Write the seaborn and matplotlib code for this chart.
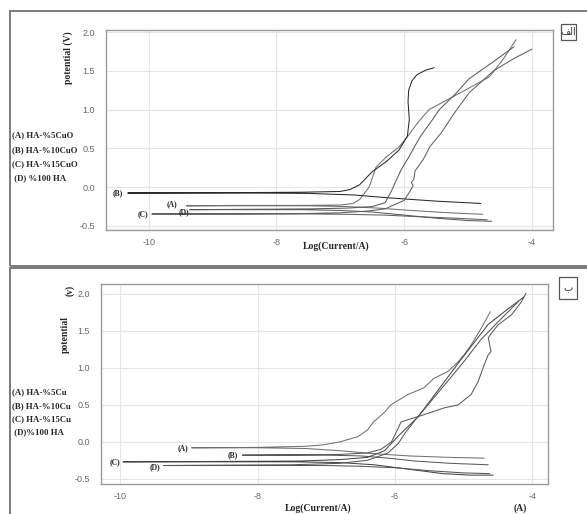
import numpy as np
import pandas as pd
import matplotlib
matplotlib.use("Agg")
import matplotlib.pyplot as plt
from matplotlib.patches import Rectangle
from matplotlib.ticker import MultipleLocator
import seaborn as sns

# ---------------- data: log(current) / potential traces ----------------
# upper panel (CuO series)
top_A_logi = [-4.77, -5.3, -5.9, -6.4, -6.9, -7.5, -8.5, -9.41, -8.6, -7.6, -7.0, -6.8, -6.70, -6.55,
              -6.44, -6.28, -6.08, -5.95, -5.78, -5.61, -5.34, -4.98, -4.67, -4.45, -4.25]
top_A_E = [-0.35, -0.33, -0.30, -0.27, -0.25, -0.24, -0.24, -0.24, -0.235, -0.235, -0.23, -0.21, -0.16, 0.0,
           0.26, 0.39, 0.52, 0.65, 0.84, 1.0, 1.12, 1.28, 1.42, 1.65, 1.90]

top_B_logi = [-4.80, -5.5, -6.2, -6.8, -7.5, -8.5, -10.33, -8.5, -7.6, -7.0, -6.85, -6.70, -6.5, -6.28,
              -6.08, -5.95, -5.92, -5.94, -5.93, -5.88, -5.80, -5.66, -5.53]
top_B_E = [-0.21, -0.18, -0.14, -0.10, -0.08, -0.075, -0.075, -0.07, -0.065, -0.055, -0.03, 0.03, 0.20, 0.33,
           0.48, 0.66, 0.87, 1.10, 1.25, 1.37, 1.45, 1.51, 1.54]

top_C_logi = [-4.7, -5.2, -5.8, -6.3, -6.9, -7.5, -8.5, -9.95, -8.8, -7.6, -7.0, -6.6, -6.3, -6.0, -5.9,
              -5.86, -5.89, -5.85, -5.83, -5.7, -5.6, -5.42, -5.22, -4.98, -4.6, -4.3, -4.0]
top_C_E = [-0.42, -0.40, -0.38, -0.36, -0.35, -0.345, -0.345, -0.345, -0.345, -0.34, -0.33, -0.31, -0.28, -0.17,
           -0.04, 0.02, 0.06, 0.10, 0.21, 0.36, 0.52, 0.70, 0.95, 1.22, 1.50, 1.65, 1.78]

top_D_logi = [-4.63, -5.0, -5.5, -6.0, -6.5, -7.0, -7.6, -8.5, -9.36, -8.4, -7.5, -6.9, -6.5, -6.3, -6.2,
              -6.13, -6.05, -5.92, -5.84, -5.75, -5.6, -5.45, -5.2, -4.98, -4.6, -4.28]
top_D_E = [-0.44, -0.43, -0.40, -0.36, -0.32, -0.30, -0.29, -0.29, -0.29, -0.285, -0.28, -0.27, -0.25, -0.20,
           -0.05, 0.08, 0.22, 0.40, 0.52, 0.65, 0.82, 1.0, 1.2, 1.40, 1.62, 1.81]

# lower panel (Cu series)
bot_A_logi = [-4.70, -5.2, -5.8, -6.3, -6.8, -7.3, -8.0, -8.96, -8.0, -7.3, -7.04, -6.80, -6.54, -6.40,
              -6.31, -6.15, -6.06, -5.81, -5.58, -5.43, -5.23, -5.08, -4.99, -4.89, -4.74, -4.61]
bot_A_E = [-0.22, -0.21, -0.19, -0.16, -0.12, -0.09, -0.08, -0.08, -0.075, -0.06, -0.04, 0.0, 0.07, 0.16,
           0.27, 0.40, 0.50, 0.64, 0.73, 0.86, 0.95, 1.08, 1.18, 1.31, 1.54, 1.76]

bot_B_logi = [-4.64, -5.2, -5.7, -6.1, -6.5, -7.0, -7.6, -8.22, -7.5, -6.8, -6.4, -6.2, -6.05, -5.97,
              -5.91, -5.6, -5.28, -5.08, -4.89, -4.79, -4.70, -4.64, -4.60, -4.64, -4.50, -4.30, -4.16, -4.09]
bot_B_E = [-0.31, -0.29, -0.26, -0.22, -0.19, -0.18, -0.18, -0.18, -0.175, -0.17, -0.15, -0.10, 0.0, 0.15,
           0.27, 0.36, 0.46, 0.50, 0.64, 0.81, 1.04, 1.18, 1.22, 1.41, 1.58, 1.72, 1.89, 2.01]

bot_C_logi = [-4.57, -4.9, -5.3, -5.8, -6.3, -6.8, -7.5, -8.5, -9.96, -8.6, -7.4, -6.8, -6.4, -6.15,
              -5.96, -5.66, -5.37, -5.04, -4.64, -4.35, -4.12]
bot_C_E = [-0.45, -0.45, -0.43, -0.37, -0.31, -0.28, -0.27, -0.27, -0.27, -0.265, -0.26, -0.24, -0.21, -0.12,
           0.07, 0.34, 0.70, 1.11, 1.59, 1.80, 1.96]

bot_D_logi = [-4.62, -5.0, -5.5, -6.0, -6.5, -7.0, -7.8, -8.6, -9.37, -8.5, -7.5, -6.8, -6.4, -6.1,
              -5.95, -5.85, -5.7, -5.5, -5.25, -5.0, -4.75, -4.5, -4.2]
bot_D_E = [-0.43, -0.42, -0.39, -0.35, -0.33, -0.32, -0.32, -0.32, -0.32, -0.315, -0.31, -0.29, -0.25, -0.15,
           -0.02, 0.12, 0.30, 0.52, 0.80, 1.08, 1.38, 1.62, 1.90]

top_legend = ["(A) HA-%5CuO", "(B) HA-%10CuO", "(C) HA-%15CuO", " (D) %100 HA"]
bot_legend = ["(A) HA-%5Cu", "(B) HA-%10Cu", "(C) HA-%15Cu", " (D)%100 HA"]
x_ticks = [-10, -8, -6, -4]
y_ticks = [-0.5, 0.0, 0.5, 1.0, 1.5, 2.0]


def make_frame(traces):
    rows = []
    for name, (xs, ys) in traces.items():
        for i, (x, y) in enumerate(zip(xs, ys)):
            rows.append({"curve": name, "step": i, "logI": x, "E": y})
    return pd.DataFrame(rows)


df_top = make_frame({"A": (top_A_logi, top_A_E), "B": (top_B_logi, top_B_E),
                     "C": (top_C_logi, top_C_E), "D": (top_D_logi, top_D_E)})
df_bot = make_frame({"A": (bot_A_logi, bot_A_E), "B": (bot_B_logi, bot_B_E),
                     "C": (bot_C_logi, bot_C_E), "D": (bot_D_logi, bot_D_E)})

sns.set_style("white")
W, H = 587, 514
fig = plt.figure(figsize=(W / 100, H / 100), dpi=100)
serif_bold = dict(family="Liberation Serif", fontweight="bold")


def px(x, y):
    return x / W, 1 - y / H


def style_axes(ax, xlim, ylim):
    ax.set_xlim(*xlim)
    ax.set_ylim(*ylim)
    ax.set_xticks(x_ticks)
    ax.set_yticks(y_ticks)
    ax.set_xticklabels([str(t) for t in x_ticks])
    ax.set_yticklabels([f"{t:.1f}" for t in y_ticks])
    ax.xaxis.set_minor_locator(MultipleLocator(1))
    ax.yaxis.set_minor_locator(MultipleLocator(0.1))
    ax.grid(True, which="major", color="#e6e6e6", lw=0.8)
    for s in ax.spines.values():
        s.set_color("#9a9a9a")
        s.set_linewidth(1.0)
    ax.tick_params(which="major", direction="out", length=7, width=0.8, color="#8a8a8a",
                   labelsize=6.5, labelcolor="#666666", pad=1)
    ax.tick_params(which="minor", direction="out", length=3, width=0.6, color="#8a8a8a")
    ax.tick_params(axis="x", which="minor", length=2)
    ax.tick_params(axis="x", which="major", length=3, pad=3)
    for lab in ax.get_xticklabels() + ax.get_yticklabels():
        lab.set_family("Liberation Sans")
    ax.set_xlabel("")
    ax.set_ylabel("")


# ---------------- upper panel ----------------
ax1 = fig.add_axes([106 / W, 1 - 230 / H, 447 / W, 200 / H])
sns.lineplot(data=df_top, x="logI", y="E", hue="curve", units="curve", estimator=None, sort=False,
             palette={"A": "#707070", "B": "#2a2a2a", "C": "#606060", "D": "#5a5a5a"},
             linewidth=0.75, legend=False, ax=ax1)
style_axes(ax1, (-10.67, -3.67), (-0.552, 2.026))

# ---------------- lower panel ----------------
ax2 = fig.add_axes([101 / W, 1 - 484 / H, 447 / W, 200 / H])
sns.lineplot(data=df_bot, x="logI", y="E", hue="curve", units="curve", estimator=None, sort=False,
             palette={"A": "#707070", "B": "#5a5a5a", "C": "#454545", "D": "#555555"},
             linewidth=0.75, legend=False, ax=ax2)
style_axes(ax2, (-10.28, -3.77), (-0.57, 2.135))

# panel frames
fig.patches.append(Rectangle(px(10, 266), (W + 5 - 10) / W, (266 - 11) / H, transform=fig.transFigure,
                             fill=False, ec="#7a7a7a", lw=1.4))
fig.patches.append(Rectangle(px(10, H + 5), (W + 5 - 10) / W, (H + 5 - 268) / H, transform=fig.transFigure,
                             fill=False, ec="#7a7a7a", lw=1.4))

# axis titles
fig.text(*px(68, 58), "potential (V)", rotation=90, ha="center", va="center", fontsize=7, **serif_bold)
fig.text(*px(336, 246), "Log(Current/A)", ha="center", va="center", fontsize=7, **serif_bold)
fig.text(*px(65, 335), "potential", rotation=90, ha="center", va="center", fontsize=7, **serif_bold)
fig.text(*px(70, 290), "(v)", rotation=90, ha="center", va="center", fontsize=7, **serif_bold)
fig.text(*px(318, 508), "Log(Current/A)", ha="center", va="center", fontsize=7, **serif_bold)
fig.text(*px(520, 508), "(A)", ha="center", va="center", fontsize=7, **serif_bold)

# legends (plain text lists)
for lab, y in zip(top_legend, [135, 150, 164, 178]):
    fig.text(*px(12, y), lab, ha="left", va="center", fontsize=6.3, **serif_bold)
for lab, y in zip(bot_legend, [392, 406, 419, 432]):
    fig.text(*px(12, y), lab, ha="left", va="center", fontsize=6.3, **serif_bold)

# curve tags
for lab, (x, y) in zip(["(B)", "(A)", "(D)", "(C)"], [(118, 193), (172, 204), (184, 212), (143, 214)]):
    fig.text(*px(x, y), lab, ha="center", va="center", fontsize=5.5, **serif_bold)
for lab, (x, y) in zip(["(A)", "(B)", "(C)", "(D)"], [(183, 448), (233, 455), (115, 462), (155, 467)]):
    fig.text(*px(x, y), lab, ha="center", va="center", fontsize=5.5, **serif_bold)

# panel marks
fig.patches.append(Rectangle(px(561, 40), 15 / W, 16 / H, transform=fig.transFigure,
                             fill=False, ec="#555555", lw=0.9))
fig.text(*px(568.5, 32), "\ufed2\ufedf\ufe8d", ha="center", va="center", fontsize=7,
         family="DejaVu Sans", color="#333333")
fig.patches.append(Rectangle(px(559, 299), 18 / W, 22 / H, transform=fig.transFigure,
                             fill=False, ec="#555555", lw=0.9))
fig.text(*px(568, 288), "ب", ha="center", va="center", fontsize=7, family="DejaVu Sans", color="#333333")

fig.savefig("out.png", dpi=100)
